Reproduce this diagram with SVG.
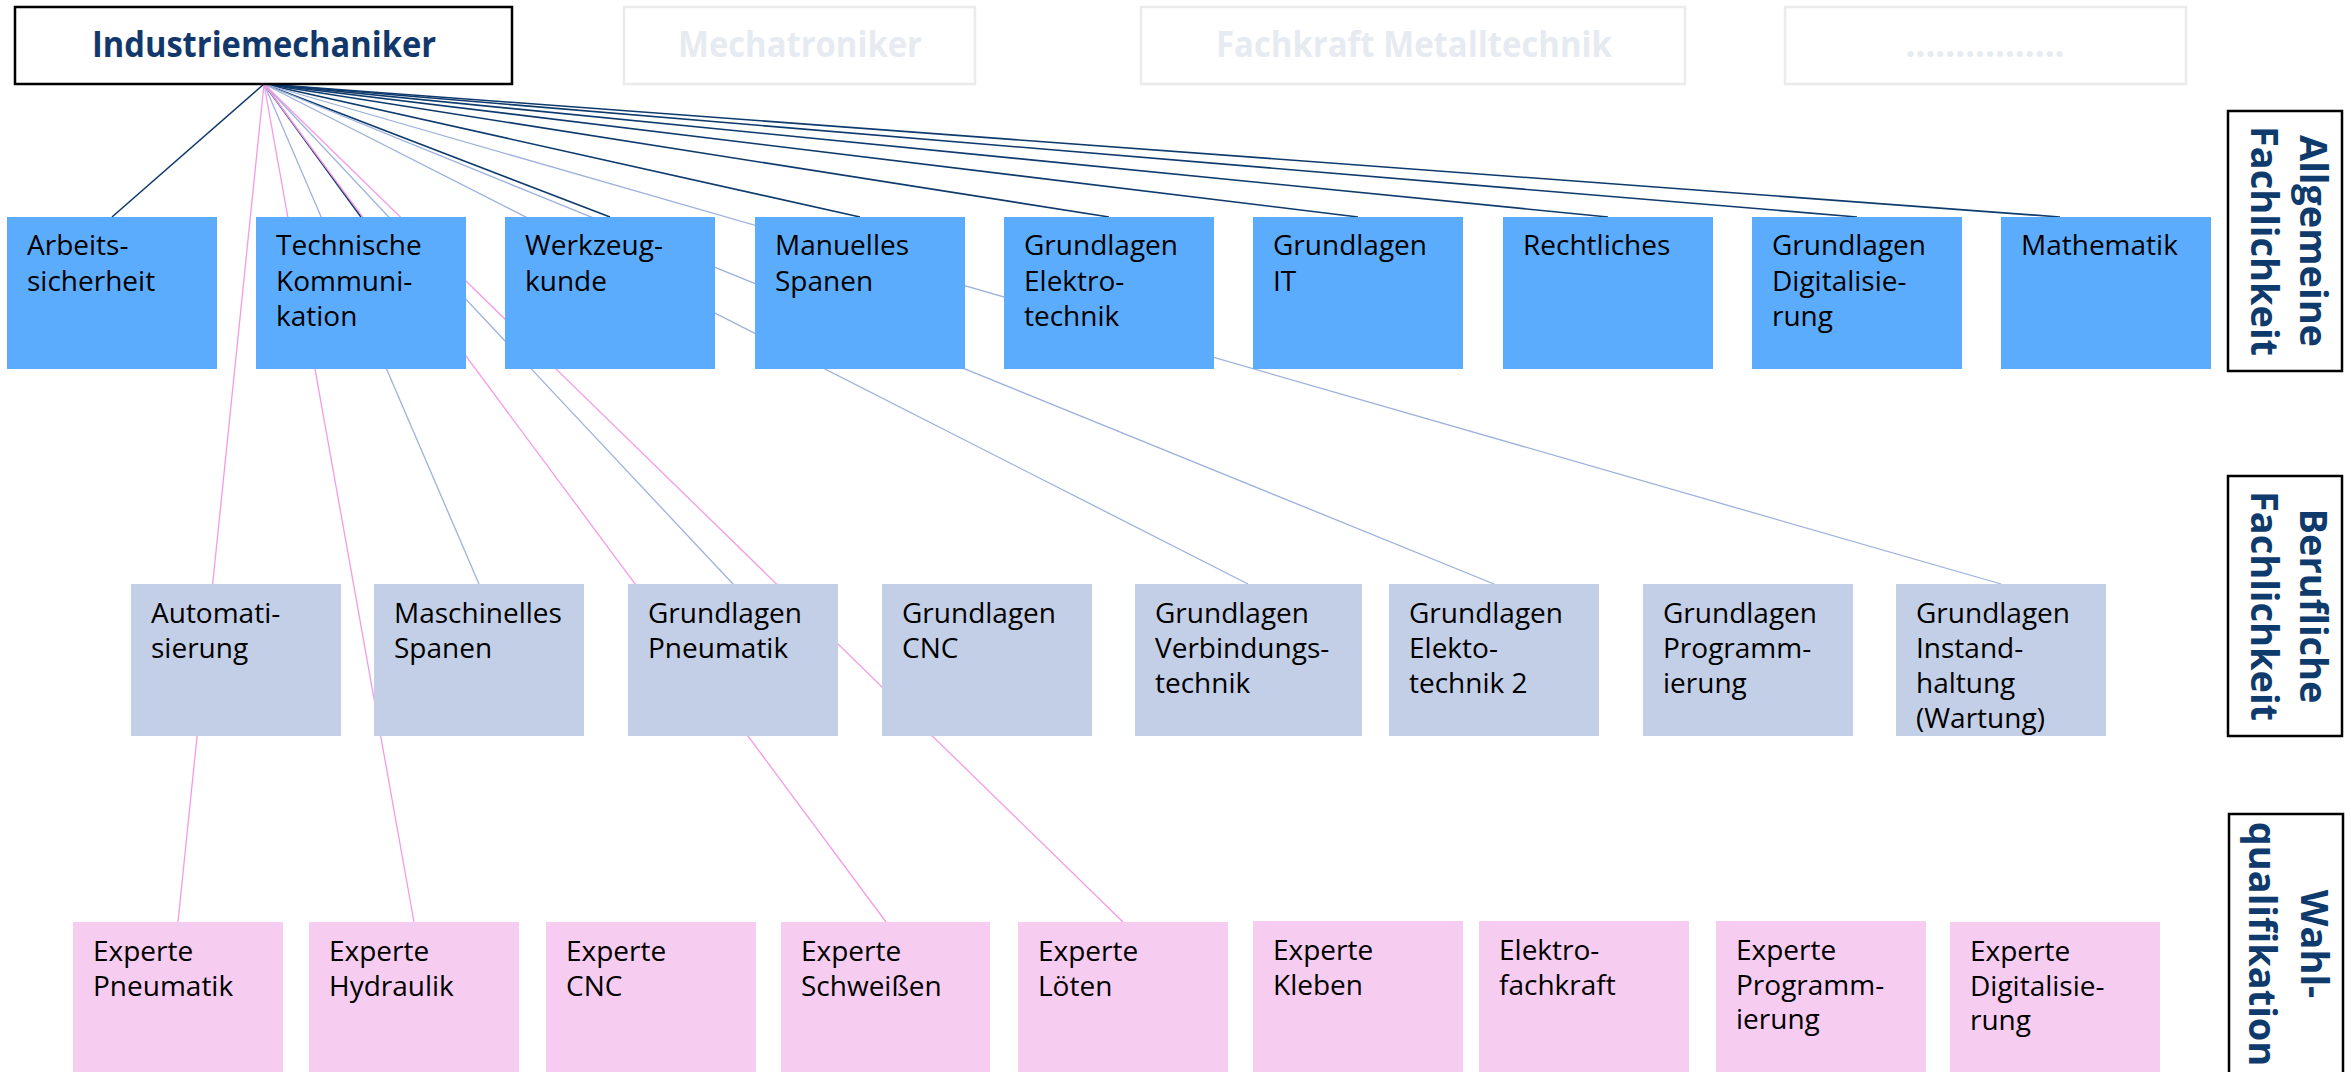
<svg xmlns="http://www.w3.org/2000/svg" width="2351" height="1072" viewBox="0 0 2351 1072">
  <style>
    .hdr { fill:#ffffff; stroke:#000000; stroke-width:2.5; }
    .ghost { fill:#ffffff; stroke:#ebebeb; stroke-width:2.5; }
    .hdrtxt { font-family:"Open Sans","Noto Sans",sans-serif; font-weight:700; font-size:36px; fill:#12386b; text-anchor:middle; }
    .ghosttxt { font-family:"Open Sans","Noto Sans",sans-serif; font-weight:700; font-size:36px; fill:#e6eaf1; text-anchor:middle; }
    .b1 { fill:#5cacfe; }
    .b2 { fill:#c3cfe7; }
    .b3 { fill:#f6cdf0; }
    .lbl { font-family:"Open Sans","Noto Sans",sans-serif; font-size:28px; fill:#000000; }
    .side { fill:#ffffff; stroke:#000000; stroke-width:2.5; }
    .sidetxt { font-family:"Open Sans","Noto Sans",sans-serif; font-weight:700; font-size:38px; fill:#0e3a6c; text-anchor:middle; }
    .cn { stroke:#0e3a6c; stroke-width:1.6; fill:none; }
    .cb { stroke:#9db1dc; stroke-width:1.3; fill:none; }
    .cp { stroke:#f59ae6; stroke-width:1.3; fill:none; }
  </style>

  <g id="connectors">
    <line class="cn" x1="264" y1="84" x2="112" y2="217"/>
    <line class="cn" x1="264" y1="84" x2="361" y2="217"/>
    <line class="cn" x1="264" y1="84" x2="610" y2="217"/>
    <line class="cn" x1="264" y1="84" x2="860" y2="217"/>
    <line class="cn" x1="264" y1="84" x2="1109" y2="217"/>
    <line class="cn" x1="264" y1="84" x2="1358" y2="217"/>
    <line class="cn" x1="264" y1="84" x2="1608" y2="217"/>
    <line class="cn" x1="264" y1="84" x2="1857" y2="217"/>
    <line class="cn" x1="264" y1="84" x2="2060" y2="217"/>
    <line class="cb" x1="264" y1="84" x2="479" y2="584"/>
    <line class="cb" x1="264" y1="84" x2="733" y2="584"/>
    <line class="cb" x1="264" y1="84" x2="1248" y2="584"/>
    <line class="cb" x1="264" y1="84" x2="1494" y2="584"/>
    <line class="cb" x1="264" y1="84" x2="2001" y2="584"/>
    <line class="cp" x1="264" y1="84" x2="178" y2="922"/>
    <line class="cp" x1="264" y1="84" x2="414" y2="922"/>
    <line class="cp" x1="264" y1="84" x2="886" y2="922"/>
    <line class="cp" x1="264" y1="84" x2="1123" y2="922"/>
  </g>

  <g id="header-industriemechaniker">
    <rect class="hdr" x="15" y="7" width="497" height="77"/>
    <text class="hdrtxt" x="264" y="57" textLength="344" lengthAdjust="spacingAndGlyphs">Industriemechaniker</text>
  </g>
  <g id="header-mechatroniker">
    <rect class="ghost" x="624" y="7" width="351" height="77"/>
    <text class="ghosttxt" x="800" y="57" textLength="244" lengthAdjust="spacingAndGlyphs">Mechatroniker</text>
  </g>
  <g id="header-fachkraft">
    <rect class="ghost" x="1141" y="7" width="544" height="77"/>
    <text class="ghosttxt" x="1414" y="57" textLength="396" lengthAdjust="spacingAndGlyphs">Fachkraft Metalltechnik</text>
  </g>
  <g id="header-dots">
    <rect class="ghost" x="1785" y="7" width="401" height="77"/>
    <text class="ghosttxt" x="1985" y="57" textLength="159" lengthAdjust="spacingAndGlyphs">................</text>
  </g>

  <!-- Allgemeine Fachlichkeit -->
  <g id="a1"><rect class="b1" x="7" y="217" width="210" height="152"/><text class="lbl" x="27" y="255">Arbeits-<tspan x="27" y="290.5">sicherheit</tspan></text></g>
  <g id="a2"><rect class="b1" x="256" y="217" width="210" height="152"/><text class="lbl" x="276" y="255">Technische<tspan x="276" y="290.5">Kommuni-</tspan><tspan x="276" y="326">kation</tspan></text></g>
  <g id="a3"><rect class="b1" x="505" y="217" width="210" height="152"/><text class="lbl" x="525" y="255">Werkzeug-<tspan x="525" y="290.5">kunde</tspan></text></g>
  <g id="a4"><rect class="b1" x="755" y="217" width="210" height="152"/><text class="lbl" x="775" y="255">Manuelles<tspan x="775" y="290.5">Spanen</tspan></text></g>
  <g id="a5"><rect class="b1" x="1004" y="217" width="210" height="152"/><text class="lbl" x="1024" y="255">Grundlagen<tspan x="1024" y="290.5">Elektro-</tspan><tspan x="1024" y="326">technik</tspan></text></g>
  <g id="a6"><rect class="b1" x="1253" y="217" width="210" height="152"/><text class="lbl" x="1273" y="255">Grundlagen<tspan x="1273" y="290.5">IT</tspan></text></g>
  <g id="a7"><rect class="b1" x="1503" y="217" width="210" height="152"/><text class="lbl" x="1523" y="255">Rechtliches</text></g>
  <g id="a8"><rect class="b1" x="1752" y="217" width="210" height="152"/><text class="lbl" x="1772" y="255">Grundlagen<tspan x="1772" y="290.5">Digitalisie-</tspan><tspan x="1772" y="326">rung</tspan></text></g>
  <g id="a9"><rect class="b1" x="2001" y="217" width="210" height="152"/><text class="lbl" x="2021" y="255">Mathematik</text></g>

  <!-- Berufliche Fachlichkeit -->
  <g id="b1"><rect class="b2" x="131" y="584" width="210" height="152"/><text class="lbl" x="151" y="622.5">Automati-<tspan x="151" y="657.5">sierung</tspan></text></g>
  <g id="b2"><rect class="b2" x="374" y="584" width="210" height="152"/><text class="lbl" x="394" y="622.5">Maschinelles<tspan x="394" y="657.5">Spanen</tspan></text></g>
  <g id="b3"><rect class="b2" x="628" y="584" width="210" height="152"/><text class="lbl" x="648" y="622.5">Grundlagen<tspan x="648" y="657.5">Pneumatik</tspan></text></g>
  <g id="b4"><rect class="b2" x="882" y="584" width="210" height="152"/><text class="lbl" x="902" y="622.5">Grundlagen<tspan x="902" y="657.5">CNC</tspan></text></g>
  <g id="b5"><rect class="b2" x="1135" y="584" width="227" height="152"/><text class="lbl" x="1155" y="622.5">Grundlagen<tspan x="1155" y="657.5">Verbindungs-</tspan><tspan x="1155" y="692.5">technik</tspan></text></g>
  <g id="b6"><rect class="b2" x="1389" y="584" width="210" height="152"/><text class="lbl" x="1409" y="622.5">Grundlagen<tspan x="1409" y="657.5">Elekto-</tspan><tspan x="1409" y="692.5">technik 2</tspan></text></g>
  <g id="b7"><rect class="b2" x="1643" y="584" width="210" height="152"/><text class="lbl" x="1663" y="622.5">Grundlagen<tspan x="1663" y="657.5">Programm-</tspan><tspan x="1663" y="692.5">ierung</tspan></text></g>
  <g id="b8"><rect class="b2" x="1896" y="584" width="210" height="152"/><text class="lbl" x="1916" y="622.5">Grundlagen<tspan x="1916" y="657.5">Instand-</tspan><tspan x="1916" y="692.5">haltung</tspan><tspan x="1916" y="727.5">(Wartung)</tspan></text></g>

  <!-- Wahlqualifikation -->
  <g id="c1"><rect class="b3" x="73" y="922" width="210" height="150"/><text class="lbl" x="93" y="961">Experte<tspan x="93" y="995.5">Pneumatik</tspan></text></g>
  <g id="c2"><rect class="b3" x="309" y="922" width="210" height="150"/><text class="lbl" x="329" y="961">Experte<tspan x="329" y="995.5">Hydraulik</tspan></text></g>
  <g id="c3"><rect class="b3" x="546" y="922" width="210" height="150"/><text class="lbl" x="566" y="961">Experte<tspan x="566" y="995.5">CNC</tspan></text></g>
  <g id="c4"><rect class="b3" x="781" y="922" width="209" height="150"/><text class="lbl" x="801" y="961">Experte<tspan x="801" y="995.5">Schweißen</tspan></text></g>
  <g id="c5"><rect class="b3" x="1018" y="922" width="210" height="150"/><text class="lbl" x="1038" y="961">Experte<tspan x="1038" y="995.5">Löten</tspan></text></g>
  <g id="c6"><rect class="b3" x="1253" y="921" width="210" height="151"/><text class="lbl" x="1273" y="960">Experte<tspan x="1273" y="994.5">Kleben</tspan></text></g>
  <g id="c7"><rect class="b3" x="1479" y="921" width="210" height="151"/><text class="lbl" x="1499" y="960">Elektro-<tspan x="1499" y="994.5">fachkraft</tspan></text></g>
  <g id="c8"><rect class="b3" x="1716" y="921" width="210" height="151"/><text class="lbl" x="1736" y="960">Experte<tspan x="1736" y="994.5">Programm-</tspan><tspan x="1736" y="1029">ierung</tspan></text></g>
  <g id="c9"><rect class="b3" x="1950" y="922" width="210" height="150"/><text class="lbl" x="1970" y="961">Experte<tspan x="1970" y="995.5">Digitalisie-</tspan><tspan x="1970" y="1030">rung</tspan></text></g>

  <!-- Side labels -->
  <g id="label-allgemeine">
    <rect class="side" x="2228" y="111" width="114" height="260"/>
    <text class="sidetxt" transform="translate(2300,241) rotate(90)">Allgemeine</text>
    <text class="sidetxt" transform="translate(2251,241) rotate(90)">Fachlichkeit</text>
  </g>
  <g id="label-berufliche">
    <rect class="side" x="2228" y="476" width="114" height="260"/>
    <text class="sidetxt" transform="translate(2300,606) rotate(90)">Berufliche</text>
    <text class="sidetxt" transform="translate(2251,606) rotate(90)">Fachlichkeit</text>
  </g>
  <g id="label-wahl">
    <rect class="side" x="2229" y="814" width="114" height="262"/>
    <text class="sidetxt" transform="translate(2301,944) rotate(90)">Wahl-</text>
    <text class="sidetxt" transform="translate(2249,944) rotate(90)">qualifikation</text>
  </g>
</svg>
